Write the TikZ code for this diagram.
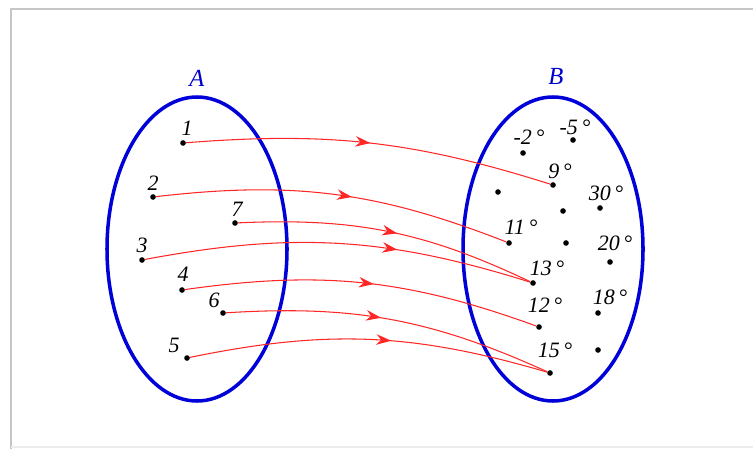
\documentclass[tikz,border=0pt]{standalone}
\usepackage{fontspec}
\setmainfont{Liberation Serif}
\usetikzlibrary{arrows.meta, decorations.markings}

\begin{document}
\begin{tikzpicture}[
    x=0.02cm, y=-0.02cm,
    dot/.style={circle, fill=black, inner sep=0pt, minimum size=3.2pt},
    lbl/.style={font=\fontsize{12.5}{14}\selectfont\itshape, inner sep=0pt},
    setname/.style={font=\fontsize{14}{16}\selectfont\itshape, text=blue!80!black, inner sep=0pt},
    setline/.style={draw=blue!85!black, line width=2pt},
    map/.style={draw=red!85, line width=0.6pt, bend left=14, postaction={decorate},
        decoration={markings, mark=at position #1 with {\arrow{Stealth[length=8.5pt, width=6pt, red!85]}}}}
]
    \useasboundingbox (0,0) rectangle (753,449);
    % Frame
    \draw[gray!45, line width=1.2pt] (11,449) -- (11,9) -- (753,9);
    \draw[gray!15, line width=0.8pt] (11,447) -- (753,447);

    % Sets
    \draw[setline] (197,249) ellipse [x radius=90, y radius=152];
    \draw[setline] (553,249) ellipse [x radius=90, y radius=152];
    \node[setname] (nameA) at (197,78) {A};
    \node[setname] (nameB) at (556,76) {B};

    % Elements of A
    \node[dot] (a1) at (183,143) {};
    \node[dot] (a2) at (153,197) {};
    \node[dot] (a7) at (235,223) {};
    \node[dot] (a3) at (142,260) {};
    \node[dot] (a4) at (182,290) {};
    \node[dot] (a6) at (223,313) {};
    \node[dot] (a5) at (187,358) {};
    \node[lbl] (l1) at (187,128) {1};
    \node[lbl] (l2) at (153,183) {2};
    \node[lbl] (l7) at (237,209) {7};
    \node[lbl] (l3) at (142,245) {3};
    \node[lbl] (l4) at (183,274) {4};
    \node[lbl] (l6) at (214,300) {6};
    \node[lbl] (l5) at (174,345) {5};

    % Elements of B
    \node[dot] (bm2) at (523,153) {};
    \node[dot] (bm5) at (573,140) {};
    \node[dot] (b9)  at (553,185) {};
    \node[dot] (bx1) at (498,192) {};
    \node[dot] (b30) at (600,208) {};
    \node[dot] (bx2) at (563,211) {};
    \node[dot] (b11) at (509,243) {};
    \node[dot] (bx3) at (566,243) {};
    \node[dot] (b20) at (610,262) {};
    \node[dot] (b13) at (533,283) {};
    \node[dot] (b18) at (598,313) {};
    \node[dot] (b12) at (539,327) {};
    \node[dot] (bx4) at (598,350) {};
    \node[dot] (b15) at (550,373) {};
    \node[lbl] (lm2) at (529,137) {-2\,°};
    \node[lbl] (lm5) at (575,127) {-5\,°};
    \node[lbl] (l9)  at (560,171) {9\,°};
    \node[lbl] (l30) at (606,193) {30\,°};
    \node[lbl] (l11) at (521,227) {11\,°};
    \node[lbl] (l20) at (615,243) {20\,°};
    \node[lbl] (l13) at (547,268) {13\,°};
    \node[lbl] (l18) at (610,297) {18\,°};
    \node[lbl] (l12) at (545,305) {12\,°};
    \node[lbl] (l15) at (555,350) {15\,°};

    % Mapping
    \draw[map=0.5, bend left=11]  (a1) to (b9);
    \draw[map=0.55] (a2) to (b11);
    \draw[map=0.53] (a7) to (b13);
    \draw[map=0.65] (a3) to (b13);
    \draw[map=0.53] (a4) to (b12);
    \draw[map=0.47] (a6) to (b15);
    \draw[map=0.56] (a5) to (b15);
\end{tikzpicture}
\end{document}
